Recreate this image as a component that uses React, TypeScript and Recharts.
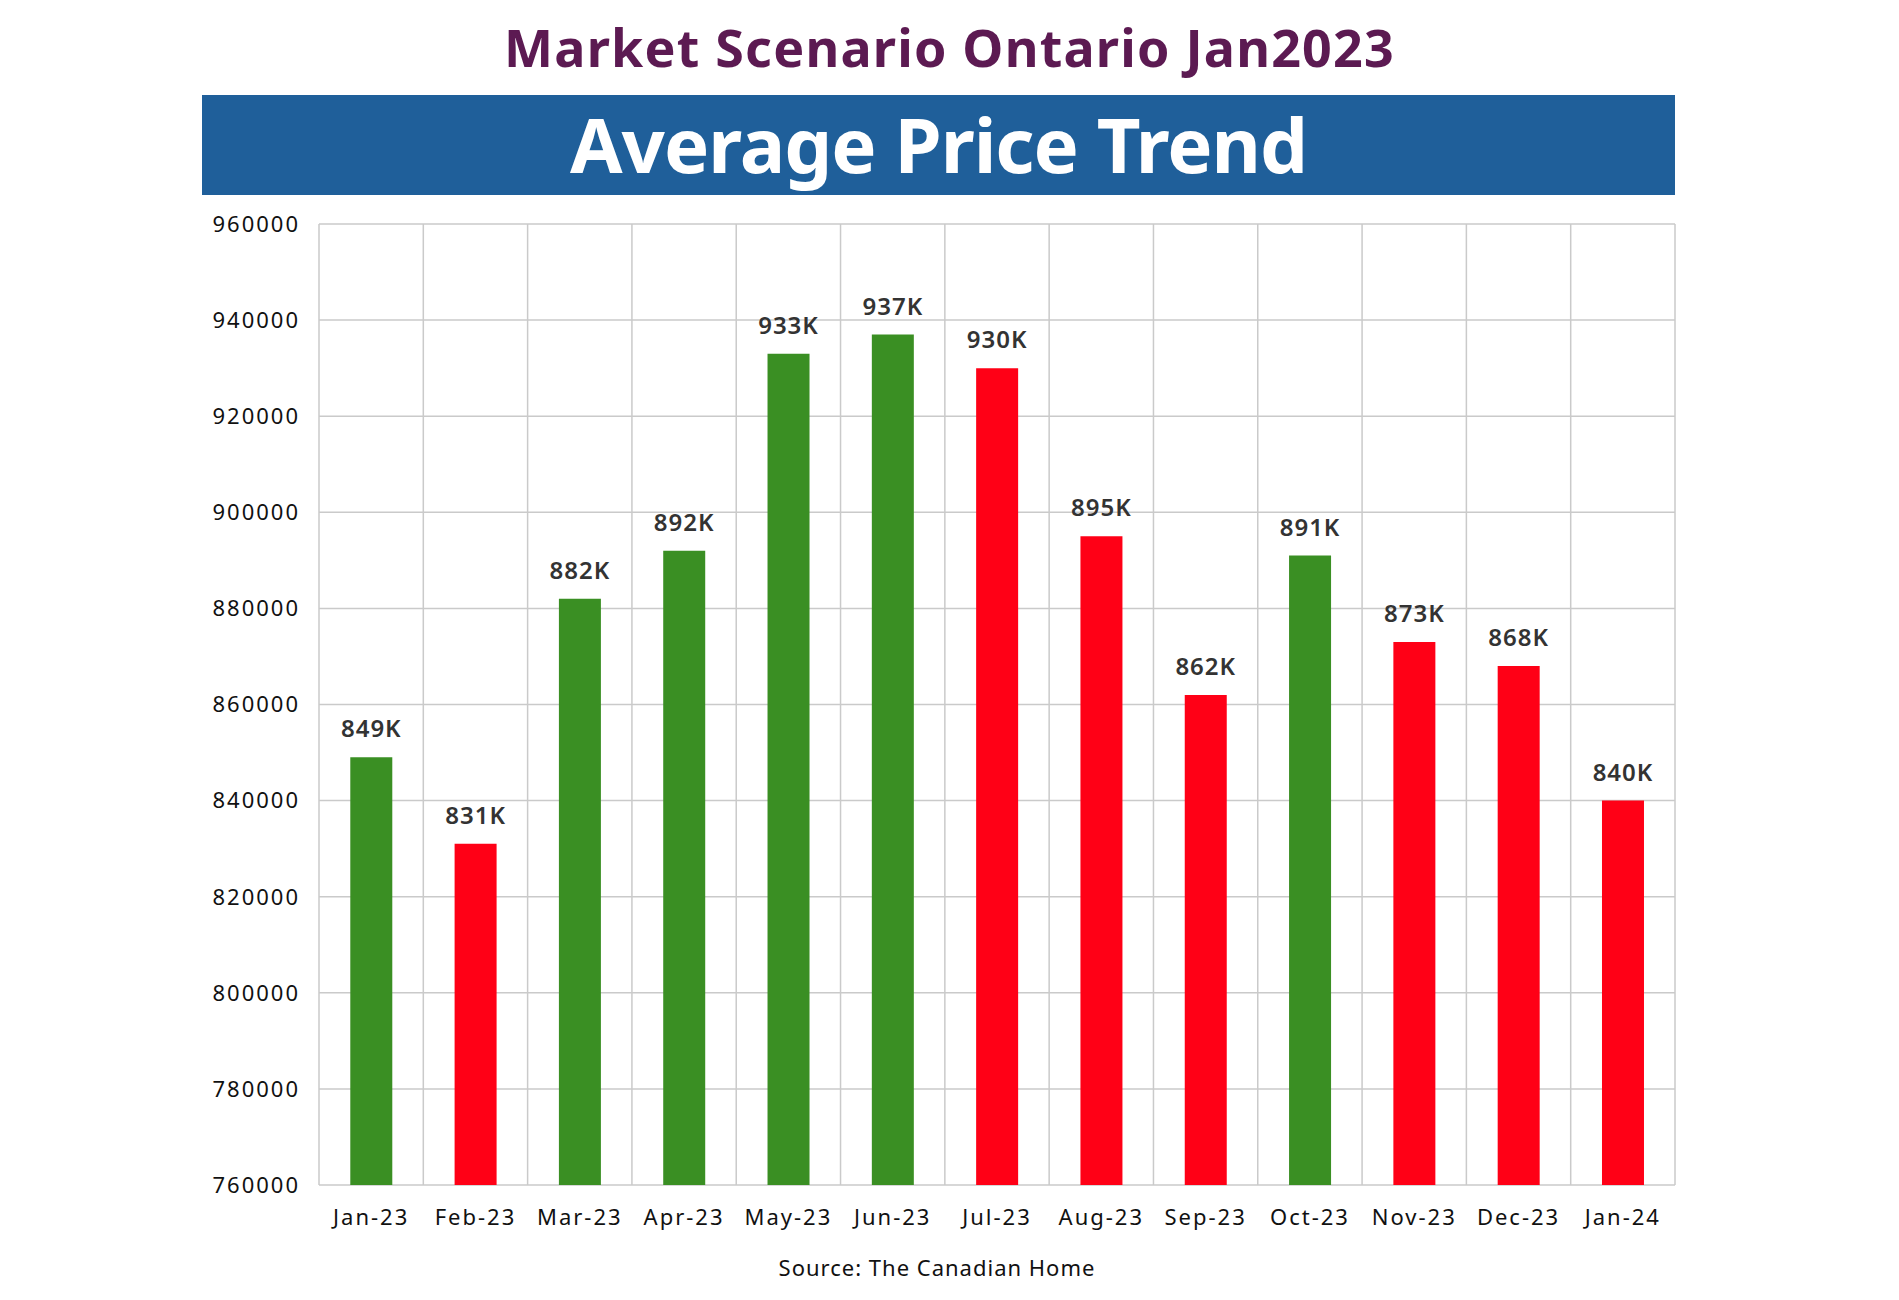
import { Bar, BarChart, CartesianGrid, Cell, LabelList, XAxis, YAxis } from "recharts";

const months = [
  "Jan-23", "Feb-23", "Mar-23", "Apr-23", "May-23", "Jun-23", "Jul-23",
  "Aug-23", "Sep-23", "Oct-23", "Nov-23", "Dec-23", "Jan-24",
];

// average price in thousands of dollars
const avgPriceK = [849, 831, 882, 892, 933, 937, 930, 895, 862, 891, 873, 868, 840];

const yTicks = [760000, 780000, 800000, 820000, 840000, 860000, 880000, 900000, 920000, 940000, 960000];

const UP = "#3a8f23";
const DOWN = "#ff0016";
const FONT = "'Noto Sans', sans-serif";

const data = months.map((month, i) => ({
  month,
  price: avgPriceK[i] * 1000,
  up: i === 0 || avgPriceK[i] >= avgPriceK[i - 1],
}));

// grid lines sit between categories, not on them
const boundaryLines = ({ offset }: { offset: { left: number; width: number } }) =>
  months.map((_, i) => offset.left + (i * offset.width) / months.length).concat(offset.left + offset.width);

export default function App() {
  return (
    <div style={{ position: "absolute", left: 0, top: 0, width: 1899, height: 1300, background: "#fff", fontFamily: FONT }}>
      <div
        style={{
          position: "absolute", left: 0, width: 1899, top: 12, textAlign: "center",
          fontSize: 52, fontWeight: 700, color: "#5c1a52", lineHeight: "70px", letterSpacing: 1.2,
        }}
      >
        Market Scenario Ontario Jan2023
      </div>
      <div
        style={{
          position: "absolute", left: 202, top: 95, width: 1473, height: 100, background: "#1f5f9a",
          color: "#fff", fontSize: 76, fontWeight: 700, textAlign: "center", lineHeight: "98px", letterSpacing: -1,
        }}
      >
        Average Price Trend
      </div>
      <div style={{ position: "absolute", top: 0, left: 0 }}>
        <BarChart
          width={1899}
          height={1300}
          data={data}
          barCategoryGap="30%"
          margin={{ top: 224, right: 224, left: 0, bottom: 55 }}
        >
          <CartesianGrid stroke="#cacaca" strokeWidth={1.5} verticalCoordinatesGenerator={boundaryLines} />
          <XAxis
            dataKey="month"
            height={60}
            axisLine={false}
            tickLine={false}
            tickMargin={18}
            tick={{ fontSize: 22, fill: "#111", fontFamily: FONT, letterSpacing: 2 }}
          />
          <YAxis
            width={319}
            domain={[760000, 960000]}
            ticks={yTicks}
            axisLine={false}
            tickLine={false}
            dx={-11}
            tick={{ fontSize: 22, fill: "#111", fontFamily: FONT, letterSpacing: 2 }}
          />
          <Bar dataKey="price" isAnimationActive={false}>
            {data.map((d) => (
              <Cell key={d.month} fill={d.up ? UP : DOWN} />
            ))}
            <LabelList
              dataKey="price"
              position="top"
              offset={20}
              formatter={(v: number) => `${Math.round(v / 1000)}K`}
              style={{ fontSize: 24, fontWeight: 600, fill: "#333", fontFamily: FONT, letterSpacing: 1 }}
            />
          </Bar>
        </BarChart>
      </div>
      <div
        style={{
          position: "absolute", left: 0, width: 1874, top: 1252, textAlign: "center",
          fontSize: 22, color: "#111", letterSpacing: 1,
        }}
      >
        Source: The Canadian Home
      </div>
    </div>
  );
}
